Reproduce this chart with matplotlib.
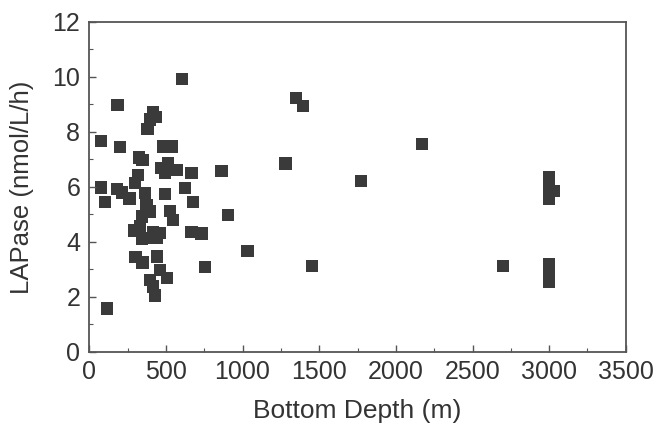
import matplotlib
matplotlib.use('Agg')
import matplotlib.pyplot as plt
from matplotlib.ticker import MultipleLocator

plt.rcParams['font.family'] = ['Liberation Sans', 'DejaVu Sans']

# bottom depth (m) and LAPase activity (nmol/L/h)
depth = [75, 75, 105, 115, 185, 202, 180, 213, 263, 298, 320, 326, 347,
         292, 302, 348, 342, 331, 345, 385, 365, 374, 396, 380, 395, 415,
         432, 396, 418, 430, 440, 461, 418, 461, 440, 494, 472, 485, 538,
         516, 495, 570, 505, 527, 548, 605, 624, 668, 679, 668, 733, 755,
         862, 905, 1033, 1281, 1349, 1395, 1453, 1774, 2169, 2698,
         2998, 2998, 2998, 3031, 2998, 2998, 2998]
lapase = [7.67, 5.98, 5.45, 1.57, 8.97, 7.46, 5.92, 5.79, 5.58, 6.13, 6.44, 7.07, 6.97,
          4.41, 3.45, 3.25, 4.92, 4.56, 4.12, 4.13, 5.77, 5.35, 5.10, 8.10, 8.45, 8.70,
          8.55, 2.62, 2.37, 2.05, 3.47, 2.98, 4.37, 4.32, 4.13, 5.73, 6.68, 7.47, 7.47,
          6.86, 6.50, 6.62, 2.68, 5.13, 4.80, 9.91, 5.95, 6.50, 5.44, 4.37, 4.30, 3.08,
          6.58, 4.97, 3.66, 6.85, 9.22, 8.93, 3.12, 6.20, 7.55, 3.12,
          6.35, 5.98, 5.55, 5.85, 3.20, 2.82, 2.55]

fig = plt.figure(figsize=(6.56, 4.29), dpi=100)
ax = fig.add_axes([0.136, 0.18, 0.818, 0.769])

ax.scatter(depth, lapase, marker='s', s=78, color='#3a3a3a', edgecolors='none')

ax.set_xlim(0, 3500)
ax.set_ylim(0, 12)
ax.xaxis.set_major_locator(MultipleLocator(500))
ax.xaxis.set_minor_locator(MultipleLocator(250))
ax.yaxis.set_major_locator(MultipleLocator(2))
ax.yaxis.set_minor_locator(MultipleLocator(1))
ax.tick_params(which='both', direction='in', colors='#555555', labelcolor='#333333',
               labelsize=18, top=False, right=False)
ax.tick_params(which='major', length=5, width=1)
ax.tick_params(which='minor', length=3, width=0.8)
ax.tick_params(axis='x', which='major', pad=6)
ax.tick_params(axis='y', which='major', pad=6.5)
for s in ax.spines.values():
    s.set_color('#555555')
    s.set_linewidth(1.3)

ax.set_xlabel('Bottom Depth (m)', fontsize=19, color='#333333', labelpad=11)
ax.set_ylabel('LAPase (nmol/L/h)', fontsize=18.5, color='#333333', labelpad=13)

fig.savefig('out.png', dpi=100)
